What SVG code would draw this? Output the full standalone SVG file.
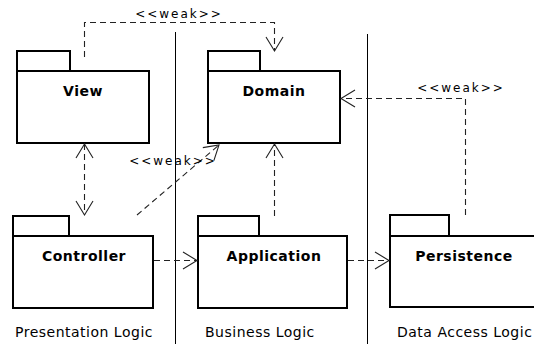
<svg xmlns="http://www.w3.org/2000/svg" width="534" height="344" viewBox="0 0 534 344">
<style>
.pkg{fill:#fff;stroke:#000;stroke-width:2}
.name{font-family:"DejaVu Sans",sans-serif;font-weight:bold;font-size:14px;letter-spacing:0.5px;text-anchor:middle;fill:#000}
.lane{font-family:"DejaVu Sans",sans-serif;font-size:14px;letter-spacing:0.5px;fill:#000}
.st{font-family:"DejaVu Sans",sans-serif;font-size:12px;letter-spacing:2px;text-anchor:middle;fill:#000}
.sep{stroke:#000;stroke-width:1}
.dep{fill:none;stroke:#222;stroke-width:1.1;stroke-dasharray:6 4}
</style>
<defs>
<marker id="open" markerUnits="userSpaceOnUse" markerWidth="20" markerHeight="20" viewBox="-16 -10 18 20" refX="0" refY="0" orient="auto-start-reverse">
<path d="M-14,-8.5 L0,0 L-14,8.5" fill="none" stroke="#222" stroke-width="1.1"/>
</marker>
</defs>
<g id="separators">
<line class="sep" x1="175.5" y1="32" x2="175.5" y2="344"/>
<line class="sep" x1="367.5" y1="34" x2="367.5" y2="344"/>
</g>
<g id="View">
<rect class="pkg" x="17" y="51" width="53" height="20"/>
<rect class="pkg" x="17" y="71" width="132" height="72"/>
<text class="name" x="83" y="96">View</text>
</g>
<g id="Domain">
<rect class="pkg" x="208" y="51" width="52" height="20"/>
<rect class="pkg" x="208" y="71" width="132" height="72"/>
<text class="name" x="274" y="96">Domain</text>
</g>
<g id="Controller">
<rect class="pkg" x="13" y="216" width="56" height="20"/>
<rect class="pkg" x="13" y="236" width="140" height="72"/>
<text class="name" x="84" y="261">Controller</text>
</g>
<g id="Application">
<rect class="pkg" x="198" y="216" width="61" height="20"/>
<rect class="pkg" x="198" y="236" width="149" height="72"/>
<text class="name" x="274" y="261">Application</text>
</g>
<g id="Persistence">
<rect class="pkg" x="390" y="215" width="59" height="21"/>
<rect class="pkg" x="390" y="236" width="150" height="71"/>
<text class="name" x="464" y="261">Persistence</text>
</g>
<g id="lanes">
<text class="lane" x="15" y="337">Presentation Logic</text>
<text class="lane" x="205" y="337">Business Logic</text>
<text class="lane" x="397" y="337">Data Access Logic</text>
</g>
<g id="connectors">
<path class="dep" d="M84.5,57 L84.5,22.5 L274.5,22.5 L274.5,51" marker-end="url(#open)"/>
<text class="st" x="179" y="18">&lt;&lt;weak&gt;&gt;</text>
<path class="dep" d="M84.5,144 L84.5,215" marker-start="url(#open)" marker-end="url(#open)"/>
<path class="dep" d="M137,215 L219,145" marker-end="url(#open)"/>
<text class="st" x="173" y="165">&lt;&lt;weak&gt;&gt;</text>
<path class="dep" d="M274.5,216 L274.5,144" marker-end="url(#open)"/>
<path class="dep" d="M154,260.5 L197,260.5" marker-end="url(#open)"/>
<path class="dep" d="M348,260.5 L389,260.5" marker-end="url(#open)"/>
<path class="dep" d="M465.5,215 L465.5,98.5 L341,98.5" marker-end="url(#open)"/>
<text class="st" x="461" y="92">&lt;&lt;weak&gt;&gt;</text>
</g>
</svg>
